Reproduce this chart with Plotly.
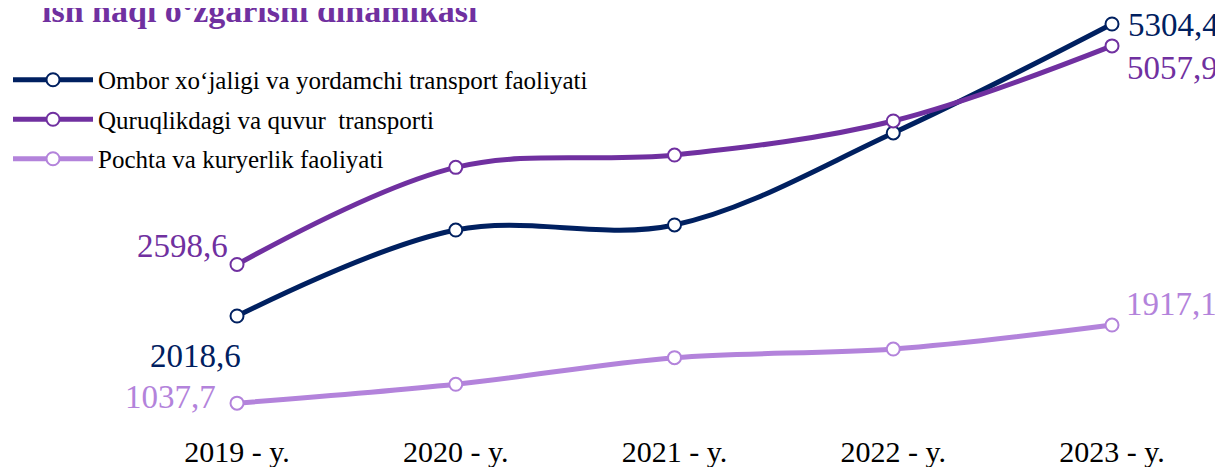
import plotly.graph_objects as go

years = ["2019 - y.", "2020 - y.", "2021 - y.", "2022 - y.", "2023 - y."]
series_names = [
    "Ombor xo‘jaligi va yordamchi transport faoliyati",
    "Quruqlikdagi va quvur  transporti",
    "Pochta va kuryerlik faoliyati",
]
ombor = [2018.6, 2986.0, 3043.0, 4078.0, 5304.4]
quruqlik = [2598.6, 3691.0, 3830.0, 4213.0, 5057.9]
pochta = [1037.7, 1250.0, 1550.0, 1647.0, 1917.1]
colors = ["#002060", "#7030A0", "#B383DB"]
title_text = "ish haqi o‘zgarishi dinamikasi"

fig = go.Figure()
for k, (name, vals, col) in enumerate(zip(series_names, [ombor, quruqlik, pochta], colors)):
    fig.add_trace(go.Scatter(
        x=list(range(len(years))), y=vals, name=name, mode="lines+markers",
        legendgroup=f"g{k}",
        line=dict(color=col, width=5, shape="spline", smoothing=1.0),
        marker=dict(size=13, color="white", line=dict(color=col, width=2)),
    ))

def fmt(v):
    return f"{v:.1f}".replace(".", ",")

# end-point labels: (series values, index, xshift, yshift, color)
label_specs = [
    (ombor, 0, -42, -40, colors[0]),
    (quruqlik, 0, -55, 18, colors[1]),
    (pochta, 0, -67, 6, colors[2]),
    (ombor, 4, 61, -1, colors[0]),
    (quruqlik, 4, 60, -22, colors[1]),
    (pochta, 4, 59, 21, colors[2]),
]
for vals, i, xs, ys, col in label_specs:
    fig.add_annotation(x=i, y=vals[i], text=fmt(vals[i]), showarrow=False,
                       xshift=xs, yshift=ys,
                       font=dict(family="Liberation Serif", size=33, color=col))

fig.add_annotation(xref="paper", yref="paper", x=0.0263, y=1.0, xanchor="left",
                   yanchor="middle", yshift=-2, text=f"<b>{title_text}</b>", showarrow=False,
                   font=dict(family="Liberation Serif", size=34, color="#7030A0"))

fig.update_layout(
    width=1215, height=459,
    margin=dict(l=0, r=0, t=0, b=33),
    paper_bgcolor="white", plot_bgcolor="white",
    showlegend=True,
    legend=dict(x=0.0, y=0.885, xanchor="left", yanchor="top",
                font=dict(family="Liberation Serif", size=25, color="#000000"),
                bgcolor="rgba(0,0,0,0)", tracegroupgap=4, itemwidth=80),
    xaxis=dict(tickmode="array", tickvals=list(range(len(years))), ticktext=years,
               range=[-1.0469, 4.5074], showgrid=False, zeroline=False, showline=False,
               ticks="", ticklabelstandoff=-3,
               tickfont=dict(family="Liberation Serif", size=30, color="#000000")),
    yaxis=dict(range=[690.8, 5484.3], visible=False),
)

fig.write_html("out.html")
